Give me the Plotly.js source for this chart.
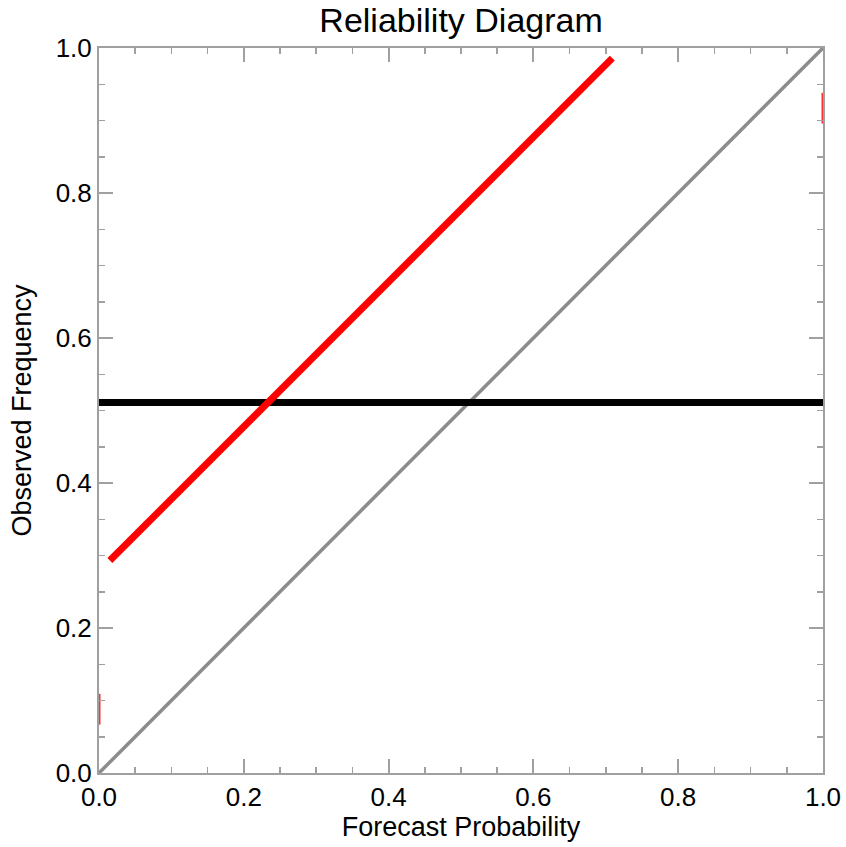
<!DOCTYPE html>
<html>
<head>
<meta charset="utf-8">
<script src="https://cdn.plot.ly/plotly-3.0.1.min.js"></script>
<style>html,body{margin:0;padding:0;background:#fff;}</style>
</head>
<body>
<div id="chart" style="width:846px;height:847px;"></div>
<script>
// Data
const diagX = [0, 1];
const diagY = [0, 1];
const reliabX = [0.015, 0.709];
const reliabY = [0.293, 0.986];
const climX = [0, 1];
const climY = [0.511, 0.511];
const markX = [0, 1];
const markY = [0.088, 0.917];
const tickVals = [0, 0.2, 0.4, 0.6, 0.8, 1.0];
const tickText = ["0.0", "0.2", "0.4", "0.6", "0.8", "1.0"];

const font = "Liberation Sans, Arial, sans-serif";

const traces = [
  {x: diagX, y: diagY, mode: 'lines', line: {color: '#8c8c8c', width: 3.5}, hoverinfo: 'skip'},
  {x: climX, y: climY, mode: 'lines', line: {color: '#000000', width: 7}, hoverinfo: 'skip'},
  {x: reliabX, y: reliabY, mode: 'lines', line: {color: '#ff0000', width: 7}, hoverinfo: 'skip'},
  {x: markX, y: markY, mode: 'markers', cliponaxis: false,
   marker: {symbol: 'line-ns', size: 22, color: '#ff3030', line: {color: '#ff3030', width: 3}}, hoverinfo: 'skip'}
];

const axisCommon = {
  range: [0, 1],
  showgrid: false,
  zeroline: false,
  showline: true,
  linecolor: '#a0a0a0',
  linewidth: 2,
  mirror: 'ticks',
  ticks: 'inside',
  ticklen: 14,
  tickwidth: 2,
  tickcolor: '#a0a0a0',
  tickvals: tickVals,
  ticktext: tickText,
  tickfont: {family: font, size: 26, color: '#000'},
  minor: {dtick: 0.05, ticks: 'inside', ticklen: 6, tickwidth: 1.5, tickcolor: '#a0a0a0', showgrid: false},
  fixedrange: true
};

const layout = {
  width: 846,
  height: 847,
  margin: {l: 99, r: 23, t: 48, b: 74},
  paper_bgcolor: '#ffffff',
  plot_bgcolor: '#ffffff',
  showlegend: false,
  title: {text: 'Reliability Diagram', font: {family: font, size: 34, color: '#000'}, x: 0.545, xanchor: 'center', y: 0.976, yanchor: 'middle'},
  xaxis: Object.assign({}, axisCommon, {
    title: {text: 'Forecast Probability', font: {family: font, size: 27, color: '#000'}, standoff: 3}
  }),
  yaxis: Object.assign({}, axisCommon, {
    title: {text: 'Observed Frequency', font: {family: font, size: 27, color: '#000'}, standoff: 16}
  })
};

Plotly.newPlot('chart', traces, layout, {displayModeBar: false, staticPlot: true});
</script>
</body>
</html>
